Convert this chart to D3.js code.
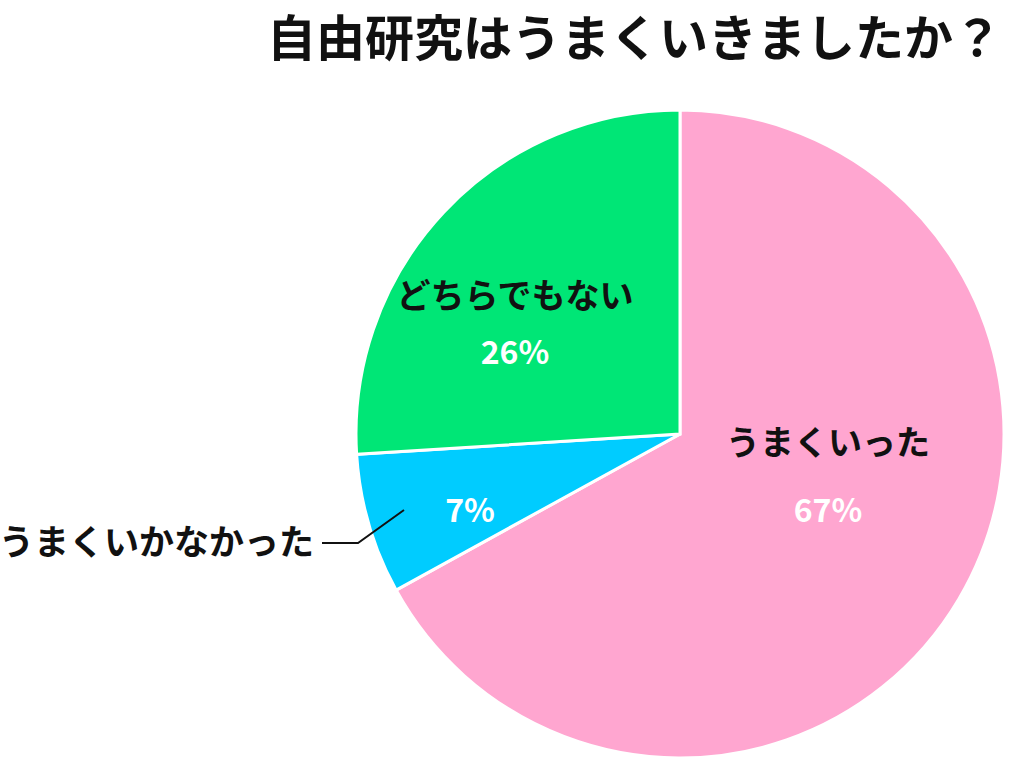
<!DOCTYPE html>
<html><head><meta charset="utf-8">
<script src="https://cdn.jsdelivr.net/npm/d3@7"></script>
<style>body{margin:0;background:#fff}text{font-family:"Noto Sans CJK JP","Noto Sans",sans-serif;font-weight:700}</style>
</head><body><svg id="c" width="1029" height="771"></svg>
<script>
const categories=["うまくいった","うまくいかなかった","どちらでもない"];
const values=[67,7,26];
const colors=["#ffa6d0","#00ccff","#00e676"];
const svg=d3.select("#c");
svg.append("text").attr("x",1002).attr("y",56).attr("text-anchor","end").attr("font-size",49).attr("fill","#111").text("自由研究はうまくいきましたか？");
const cx=680,cy=434,r=324;
const g=svg.append("g").attr("transform",`translate(${cx},${cy})`);
const pie=d3.pie().sort(null).value(d=>d)(values);
const arc=d3.arc().innerRadius(0).outerRadius(r);
g.selectAll("path").data(pie).join("path").attr("d",arc).attr("fill",(d,i)=>colors[i]).attr("stroke","#fff").attr("stroke-width",3);
const lab=[{i:0,x:148,y:455,py:510},{i:2,x:-165,y:308,py:352},{i:1,x:-210,y:null,py:510}];
lab.forEach(l=>{
  if(l.y!==null) g.append("text").attr("x",l.x).attr("y",l.y-cy).attr("text-anchor","middle").attr("font-size",34).attr("fill","#111").text(categories[l.i]);
  g.append("text").attr("x",l.x).attr("y",l.py+12-cy).attr("text-anchor","middle").attr("font-size",32).attr("fill","#fff").text(values[l.i]+"%");
});
svg.append("text").attr("x",314).attr("y",555).attr("text-anchor","end").attr("font-size",35).attr("fill","#111").text(categories[1]);
svg.append("polyline").attr("points","322,543 358,543 404,510").attr("fill","none").attr("stroke","#111").attr("stroke-width",2);
</script></body></html>
